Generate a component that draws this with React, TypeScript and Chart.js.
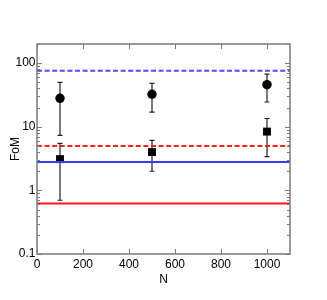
import React, { useEffect, useRef } from "react";
import { Chart, registerables } from "chart.js";

Chart.register(...registerables);

// Data
const nValues = [100, 500, 1000];
const circleFoM = [28, 32.5, 46];
const circleLow = [7.3, 17, 24.5];
const circleHigh = [50, 48, 67];
const squareFoM = [3.1, 4.0, 8.4];
const squareLow = [0.7, 2.0, 3.4];
const squareHigh = [5.5, 6.1, 13.5];
const lineX = [0, 1100];
const blueDashedLevel = 76;
const redDashedLevel = 5.0;
const blueSolidLevel = 2.8;
const redSolidLevel = 0.62;
const xTicks = [0, 200, 400, 600, 800, 1000];
const yMajor = [0.1, 1, 10, 100];

const FONT = "'Liberation Sans', Arial, sans-serif";

const errorBarPlugin = {
  id: "errorBars",
  beforeDatasetsDraw(chart: any) {
    const ctx = chart.ctx;
    const xs = chart.scales.x;
    const ys = chart.scales.y;
    const groups = [
      { low: circleLow, high: circleHigh },
      { low: squareLow, high: squareHigh },
    ];
    ctx.save();
    ctx.strokeStyle = "#222";
    ctx.lineWidth = 1.2;
    groups.forEach((g) => {
      nValues.forEach((n, i) => {
        const x = xs.getPixelForValue(n);
        const y1 = ys.getPixelForValue(g.low[i]);
        const y2 = ys.getPixelForValue(g.high[i]);
        ctx.beginPath();
        ctx.moveTo(x, y1);
        ctx.lineTo(x, y2);
        ctx.moveTo(x - 2.5, y1);
        ctx.lineTo(x + 2.5, y1);
        ctx.moveTo(x - 2.5, y2);
        ctx.lineTo(x + 2.5, y2);
        ctx.stroke();
      });
    });
    ctx.restore();
  },
};

const framePlugin = {
  id: "frame",
  afterDraw(chart: any) {
    const ctx = chart.ctx;
    const { left, right, top, bottom } = chart.chartArea;
    const xs = chart.scales.x;
    const ys = chart.scales.y;
    ctx.save();
    ctx.strokeStyle = "#7a7a7a";
    ctx.lineWidth = 1.5;
    ctx.strokeRect(left, top, right - left, bottom - top);
    ctx.lineWidth = 1;
    ctx.beginPath();
    xTicks.forEach((v) => {
      const x = Math.round(xs.getPixelForValue(v)) + 0.5;
      ctx.moveTo(x, bottom);
      ctx.lineTo(x, bottom - 5);
      ctx.moveTo(x, top);
      ctx.lineTo(x, top + 5);
    });
    yMajor.forEach((dec) => {
      for (let m = 1; m <= 9; m++) {
        const v = dec * m;
        if (v > ys.max + 1e-9) break;
        const y = Math.round(ys.getPixelForValue(v)) + 0.5;
        const len = m === 1 ? 5 : 3;
        ctx.moveTo(left, y);
        ctx.lineTo(left + len, y);
        ctx.moveTo(right, y);
        ctx.lineTo(right - len, y);
      }
    });
    ctx.stroke();
    ctx.restore();
  },
};

function levelLine(level: number, color: string, dashed: boolean) {
  return {
    type: "line" as const,
    data: lineX.map((x) => ({ x, y: level })),
    borderColor: color,
    borderWidth: 2,
    borderDash: dashed ? [5, 2.6] : [],
    pointRadius: 0,
    fill: false,
  };
}

export default function App() {
  const ref = useRef<HTMLCanvasElement>(null);
  useEffect(() => {
    document.body.style.margin = "0";
    const canvas = ref.current;
    if (!canvas) return;
    const chart = new Chart(canvas, {
      type: "scatter",
      data: {
        datasets: [
          levelLine(blueDashedLevel, "#4d4dff", true),
          levelLine(redDashedLevel, "#ff2020", true),
          levelLine(blueSolidLevel, "#3838ff", false),
          levelLine(redSolidLevel, "#ff1a1a", false),
          {
            type: "scatter",
            data: nValues.map((x, i) => ({ x, y: circleFoM[i] })),
            pointStyle: "circle",
            pointRadius: 4.7,
            backgroundColor: "#000",
            borderColor: "#000",
            borderWidth: 0,
          },
          {
            type: "scatter",
            data: nValues.map((x, i) => ({ x, y: squareFoM[i] })),
            pointStyle: "rect",
            pointRadius: 5.6,
            backgroundColor: "#000",
            borderColor: "#000",
            borderWidth: 0,
          },
        ] as any,
      },
      options: {
        responsive: false,
        animation: false,
        layout: { padding: { left: 0, right: 37, top: 44, bottom: 0 } },
        plugins: {
          legend: { display: false },
          tooltip: { enabled: false },
        },
        scales: {
          x: {
            type: "linear",
            min: 0,
            max: 1100,
            afterFit: (s: any) => {
              s.height = 46;
            },
            afterBuildTicks: (s: any) => {
              s.ticks = xTicks.map((v) => ({ value: v }));
            },
            ticks: {
              color: "#000",
              font: { family: FONT, size: 12 },
              padding: 3,
              maxRotation: 0,
              autoSkip: false,
              callback: (v: any) => String(v),
            },
            grid: { display: false, drawTicks: false, tickLength: 0 },
            border: { display: false },
            title: {
              display: true,
              text: "N",
              color: "#000",
              font: { family: FONT, size: 12 },
              padding: { top: 0, bottom: 13 },
            },
          },
          y: {
            type: "logarithmic",
            min: 0.1,
            max: 200,
            afterFit: (s: any) => {
              s.width = 37;
            },
            afterBuildTicks: (s: any) => {
              s.ticks = yMajor.map((v) => ({ value: v }));
            },
            ticks: {
              color: "#000",
              font: { family: FONT, size: 12 },
              padding: 1.5,
              autoSkip: false,
              callback: (v: any) => String(v),
            },
            grid: { display: false, drawTicks: false, tickLength: 0 },
            border: { display: false },
            title: {
              display: true,
              text: "FoM",
              color: "#000",
              font: { family: FONT, size: 12 },
              padding: { top: 8, bottom: 0 },
            },
          },
        },
      },
      plugins: [errorBarPlugin, framePlugin],
    });
    return () => chart.destroy();
  }, []);
  return (
    <div style={{ width: 327, height: 300 }}>
      <canvas ref={ref} width={327} height={300} />
    </div>
  );
}
